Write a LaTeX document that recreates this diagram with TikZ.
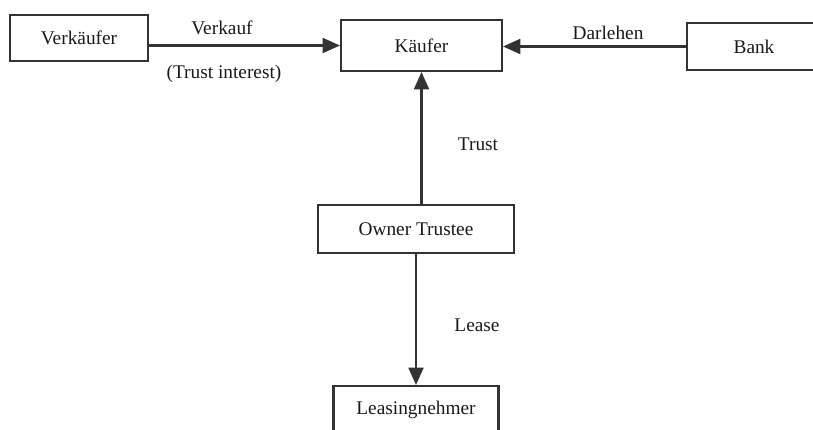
\documentclass[tikz,border=0pt]{standalone}
\usepackage{fontspec}
\setmainfont{Liberation Serif}
\usetikzlibrary{arrows.meta,positioning}

\begin{document}
\begin{tikzpicture}[
  x=0.03cm, y=-0.03cm,
  font=\fontsize{16.5}{19}\selectfont,
  >={Triangle[length=0.52cm,width=0.45cm]},
  box/.style ={draw=black!80,line width=1.8pt,rectangle,inner sep=0pt,
               text=black!90,align=center},
  flow/.style={->,draw=black!80,line width=1.8pt},
  lbl/.style ={text=black!90,inner sep=0pt},
]
\useasboundingbox (0,0) rectangle (813,430);

%% =============================================
%% Parties
%% =============================================
\node[box,minimum width=4.14cm,minimum height=1.38cm] (verk) at (79,38) {Verkäufer};
\node[box,minimum width=4.83cm,minimum height=1.53cm] (kaeufer) at (421.5,45.5) {Käufer};
\node[box,minimum width=4.02cm,minimum height=1.41cm] (bank) at (754,46.5) {Bank};

% Trust and lease chain
\node[box,minimum width=5.88cm,minimum height=1.44cm] (owner) at (416,229) {Owner Trustee};
\node[box,minimum width=4.95cm,minimum height=1.44cm] (lessee) at (416,410) {Leasingnehmer};

%% =============================================
%% Connections
%% =============================================
\draw[flow] (verk.east |- kaeufer.west) -- (kaeufer.west);
\draw[flow] (bank.west) -- (kaeufer.east |- bank.west);
\draw[flow] (kaeufer.south |- owner.north) -- (kaeufer.south);
\draw[flow] (owner.south) -- (lessee.north);

%% =============================================
%% Labels
%% =============================================
\node[lbl] (verkauf) at (222,28) {Verkauf};
\node[lbl] (trustint) at (224,74) {(Trust interest)};
\node[lbl] (darlehen) at (608,33) {Darlehen};
\node[lbl] (trust) at (478,144) {Trust};
\node[lbl] (lease) at (477,325) {Lease};

\end{tikzpicture}
\end{document}
